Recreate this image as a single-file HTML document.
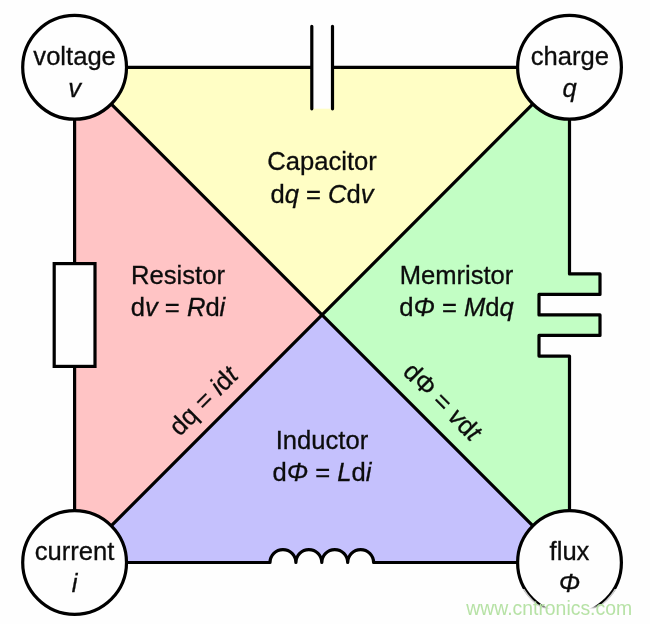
<!DOCTYPE html>
<html><head><meta charset="utf-8">
<style>
html,body{margin:0;padding:0;background:#fefefe;}
body{width:650px;height:624px;overflow:hidden;font-family:"Liberation Sans",sans-serif;}
svg{display:block;}
text{font-family:"Liberation Sans",sans-serif;font-size:25.6px;fill:#0c0c0c;stroke:#0c0c0c;stroke-width:0.3px;}
.i{font-style:italic;}
</style></head><body>
<svg width="650" height="624" viewBox="0 0 650 624">
<rect width="650" height="624" fill="#fefefe"/>
<polygon points="74.6,67.3 569.5,67.3 322.05,314.9" fill="#fffec5"/>
<polygon points="74.6,67.3 322.05,314.9 74.6,562.5" fill="#ffc4c5"/>
<path d="M569.5,67.3 V273.9 H600 V294.4 H539 V314.9 H600 V335.4 H539 V356.1 H569.5 V562.5 L322.05,314.9 Z" fill="#c2fec4"/>
<path d="M74.6,562.5 L322.05,314.9 L569.5,562.5 H373.6 A12.95,12.95 0 0 0 347.7,562.5 A12.95,12.95 0 0 0 321.8,562.5 A12.95,12.95 0 0 0 295.9,562.5 A12.95,12.95 0 0 0 270.0,562.5 Z" fill="#c5c1fd"/>
<rect x="311.8" y="25.5" width="20.7" height="83.2" fill="#fefefe"/>
<g fill="none" stroke="#000" stroke-width="3.2">
<path d="M74.6,67.3 H311.8 M332.5,67.3 H569.5"/>
<path d="M311.8,26.3 V108.8 M332.5,26.3 V108.8" stroke-linecap="round"/>
<path d="M74.6,67.3 V562.5"/>
<path d="M569.5,67.3 V273.9 H600 V294.4 H539 V314.9 H600 V335.4 H539 V356.1 H569.5 V562.5" stroke-linejoin="round"/>
<path d="M74.6,562.5 H270.0 A12.95,12.95 0 0 1 295.9,562.5 A12.95,12.95 0 0 1 321.8,562.5 A12.95,12.95 0 0 1 347.7,562.5 A12.95,12.95 0 0 1 373.6,562.5 H569.5" stroke-linejoin="round"/>
<path d="M74.6,67.3 L569.5,562.5 M569.5,67.3 L74.6,562.5"/>
<rect x="54.2" y="263.6" width="40.8" height="102.8" fill="#fefefe"/>
<circle cx="74.6" cy="67.3" r="51.9" fill="#fefefe"/>
<circle cx="569.5" cy="67.3" r="51.9" fill="#fefefe"/>
<circle cx="74.6" cy="562.5" r="51.9" fill="#fefefe"/>
<circle cx="569.5" cy="562.5" r="51.9" fill="#fefefe"/>
</g>
<g text-anchor="middle" style="filter:grayscale(1)">
<text x="74.6" y="64.8">voltage</text>
<text x="74.6" y="96.5" class="i">v</text>
<text x="569.9" y="64.5">charge</text>
<text x="569.5" y="96.5" class="i">q</text>
<text x="74.6" y="559.5">current</text>
<text x="74.6" y="592" class="i">i</text>
<text x="569.5" y="560">flux</text>
<text x="569.5" y="592" class="i">Φ</text>
<text x="322" y="170">Capacitor</text>
<text x="322" y="202.5">d<tspan class="i">q</tspan> = <tspan class="i">C</tspan>d<tspan class="i">v</tspan></text>
<text x="178" y="284">Resistor</text>
<text x="178" y="315.7">d<tspan class="i">v</tspan> = <tspan class="i">R</tspan>d<tspan class="i">i</tspan></text>
<text x="456.5" y="284.4">Memristor</text>
<text x="456.5" y="315.6">d<tspan class="i">Φ</tspan> = <tspan class="i">M</tspan>d<tspan class="i">q</tspan></text>
<text x="322" y="449">Inductor</text>
<text x="322" y="480.7">d<tspan class="i">Φ</tspan> = <tspan class="i">L</tspan>d<tspan class="i">i</tspan></text>
<text transform="translate(209.5,407) rotate(-45)" x="0" y="0">dq = <tspan class="i">i</tspan>d<tspan class="i">t</tspan></text>
<text transform="translate(436.3,407.6) rotate(45)" x="0" y="0">dΦ = <tspan class="i">v</tspan>d<tspan class="i">t</tspan></text>
</g>
<defs><linearGradient id="fade" x1="0" y1="0" x2="0" y2="1"><stop offset="0" stop-color="#fefefe" stop-opacity="0"/><stop offset="0.25" stop-color="#fefefe" stop-opacity="1"/><stop offset="1" stop-color="#fefefe" stop-opacity="1"/></linearGradient></defs>
<clipPath id="wmclip"><rect x="500" y="589" width="140" height="35"/></clipPath>
<circle cx="569.5" cy="562.5" r="52.95" fill="none" stroke="#fefefe" stroke-width="1.5" stroke-opacity="0.8" clip-path="url(#wmclip)"/>
<rect x="500" y="604" width="140" height="20" fill="url(#fade)"/>
<g style="filter:brightness(1)"><text x="466.2" y="615" style="font-size:19.4px;fill:#b7e2a6;stroke:none;">www.cntronics.com</text></g>
</svg>
</body></html>
